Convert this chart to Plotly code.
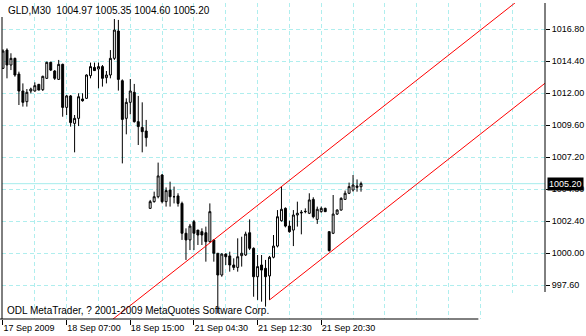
import plotly.graph_objects as go

# ---------------- data ----------------
symbol_header = "GLD,M30  1004.97 1005.35 1004.60 1005.20"
footer_text = "ODL MetaTrader, ? 2001-2009 MetaQuotes Software Corp."

bars = list(range(91))
opens = [1013.85, 1015.22, 1014.10, 1014.60, 1013.42, 1012.15, 1011.35, 1012.15, 1012.15, 1012.65,
         1012.25, 1013.10, 1014.30, 1013.65, 1013.02, 1014.15, 1010.92, 1011.78, 1009.72, 1010.10,
         1011.55, 1011.60, 1013.30, 1013.92, 1013.80, 1013.98, 1013.15, 1013.35, 1014.60, 1016.65,
         1012.92, 1010.10, 1011.30, 1012.05, 1009.85, 1009.42, 1009.15, 1003.35, 1003.85, 1004.22,
         1005.85, 1003.85, 1004.72, 1004.22, 1004.28, 1003.72, 1001.48, 1000.98, 1002.35, 1001.72,
         1001.60, 1001.52, 1000.85, 1000.98, 999.98, 998.35, 999.92, 999.78, 999.10, 998.92,
         999.80, 999.85, 1001.52, 1000.35, 998.22, 999.10, 998.85, 998.28, 999.68, 1000.52,
         1002.42, 1003.35, 1002.02, 1001.72, 1002.85, 1003.00, 1003.10, 1002.98, 1004.02, 1002.52,
         1003.10, 1003.35, 1001.60, 1001.48, 1002.92, 1003.22, 1004.02, 1004.48, 1004.72, 1004.92,
         1004.97]
highs = [1015.28, 1015.35, 1014.98, 1014.65, 1013.60, 1012.72, 1012.30, 1012.40, 1012.80, 1012.68,
         1013.30, 1014.35, 1014.35, 1013.72, 1014.48, 1014.20, 1011.85, 1011.85, 1010.35, 1011.98,
         1011.98, 1013.40, 1014.28, 1014.28, 1014.28, 1014.10, 1013.65, 1015.22, 1017.55, 1017.48,
         1013.02, 1011.60, 1013.05, 1012.68, 1011.78, 1011.30, 1009.98, 1003.98, 1004.60, 1006.78,
         1005.92, 1004.92, 1005.35, 1004.98, 1004.48, 1003.85, 1001.85, 1002.18, 1002.48, 1001.72,
         1001.85, 1001.98, 1003.72, 1001.02, 999.98, 999.98, 999.98, 1000.10, 999.60, 1001.10,
         1001.22, 1001.60, 1002.52, 1000.42, 999.85, 999.85, 999.48, 999.78, 1001.35, 1003.22,
         1004.98, 1003.42, 1002.42, 1003.22, 1003.85, 1003.22, 1003.35, 1004.48, 1004.18, 1003.48,
         1003.48, 1003.40, 1001.62, 1004.35, 1003.28, 1004.18, 1004.68, 1005.28, 1005.85, 1005.52,
         1005.35]
lows = [1013.80, 1013.10, 1013.72, 1013.22, 1011.10, 1010.98, 1010.98, 1011.98, 1012.10, 1012.20,
        1012.15, 1013.05, 1013.65, 1012.98, 1012.98, 1010.22, 1010.35, 1009.48, 1007.55, 1009.52,
        1011.35, 1011.55, 1013.10, 1013.65, 1012.35, 1012.48, 1012.72, 1013.10, 1014.48, 1012.18,
        1006.72, 1008.90, 1010.40, 1009.78, 1008.10, 1007.55, 1007.98, 1003.30, 1003.78, 1004.10,
        1003.72, 1003.48, 1003.48, 1003.72, 1003.48, 1000.98, 999.48, 1000.22, 1000.22, 1000.60,
        1000.60, 999.35, 1000.78, 999.35, 995.48, 998.22, 999.10, 998.60, 998.72, 998.60,
        998.98, 999.78, 1000.22, 996.72, 996.48, 996.35, 995.98, 996.48, 999.60, 1000.42,
        1002.35, 1001.92, 1001.52, 1000.52, 1001.98, 1001.40, 1002.98, 1002.92, 1002.60, 1002.18,
        1003.02, 1003.08, 1000.10, 1001.42, 1002.85, 1003.18, 1003.98, 1004.42, 1004.60, 1004.60,
        1004.60]
closes = [1015.15, 1014.10, 1014.60, 1013.35, 1012.15, 1011.30, 1012.05, 1012.30, 1012.55, 1012.22,
          1013.25, 1014.30, 1013.72, 1013.10, 1014.15, 1010.92, 1011.78, 1009.78, 1010.10, 1011.72,
          1011.42, 1013.35, 1013.98, 1013.68, 1013.98, 1013.10, 1013.35, 1014.60, 1016.72, 1013.02,
          1010.02, 1011.30, 1012.15, 1009.85, 1009.48, 1009.10, 1008.65, 1003.85, 1004.22, 1005.78,
          1003.85, 1004.68, 1004.22, 1004.22, 1003.72, 1001.48, 1000.98, 1002.02, 1001.48, 1001.35,
          1001.35, 1000.85, 1003.10, 999.98, 998.35, 999.92, 999.72, 999.10, 998.92, 999.72,
          999.98, 1001.42, 1000.35, 998.22, 998.98, 998.72, 998.22, 999.68, 1000.52, 1002.72,
          1003.28, 1002.02, 1001.60, 1002.85, 1002.98, 1003.05, 1003.12, 1003.98, 1002.72, 1003.28,
          1003.35, 1003.10, 1000.18, 1002.92, 1003.22, 1004.10, 1004.48, 1004.98, 1005.10, 1005.02,
          1005.20]

time_tick_bars = [0, 16, 32, 48, 64, 80]
time_tick_labels = ["17 Sep 2009", "18 Sep 07:00", "18 Sep 15:00",
                    "21 Sep 04:30", "21 Sep 12:30", "21 Sep 20:30"]
price_ticks = [997.60, 1000.00, 1002.40, 1004.80, 1007.20, 1009.60, 1012.00, 1014.40, 1016.80]
bid_price = 1005.20

# trend channel anchors
lower_trend_bars = [67, 82]
lower_trend_prices = [996.48, 1000.00]
upper_anchor_bar = 70
upper_anchor_price = 1004.98

# ---------------- layout constants ----------------
W, H = 586, 336
L_M, R_M, T_M, B_M = 2, 38, 3, 17
x_range = [-0.25, 136.25]
y_range = [995.05, 1018.75]
GRID = "#afeeee"
FONT = "Liberation Sans, Arial, sans-serif"

def px_x(px):
    return (px - L_M) / (W - L_M - R_M)

def px_y(py):
    return (H - B_M - py) / (H - T_M - B_M)

fig = go.Figure()

fig.add_trace(go.Candlestick(
    x=bars, open=opens, high=highs, low=lows, close=closes,
    increasing=dict(line=dict(color="black", width=1), fillcolor="white"),
    decreasing=dict(line=dict(color="black", width=1), fillcolor="black"),
    whiskerwidth=0, hoverinfo="skip", showlegend=False,
))

# channel lines
slope = (lower_trend_prices[1] - lower_trend_prices[0]) / (lower_trend_bars[1] - lower_trend_bars[0])
lx = [lower_trend_bars[0], x_range[1]]
ly = [lower_trend_prices[0] + slope * (v - lower_trend_bars[0]) for v in lx]
ux = [20, x_range[1]]
uy = [upper_anchor_price + slope * (v - upper_anchor_bar) for v in ux]
for xs, ys in ((lx, ly), (ux, uy)):
    fig.add_trace(go.Scatter(x=xs, y=ys, mode="lines", line=dict(color="#ff0000", width=1),
                             hoverinfo="skip", showlegend=False))

shapes = [
    # bid line
    dict(type="line", xref="paper", yref="y", x0=0, x1=1, y0=bid_price, y1=bid_price,
         line=dict(color="#a6ecec", width=1), layer="below"),
    # left border
    dict(type="line", xref="paper", yref="paper", x0=0, x1=0, y0=0, y1=px_y(17),
         line=dict(color="black", width=1)),
    # right price-axis line
    dict(type="line", xref="paper", yref="paper", x0=1, x1=1, y0=px_y(292), y1=1,
         line=dict(color="black", width=1)),
    # blank corner
    dict(type="rect", xref="paper", yref="paper", x0=px_x(485), x1=px_x(590),
         y0=px_y(340), y1=px_y(293), fillcolor="white", line=dict(width=0), layer="above"),
    # bottom time-axis line
    dict(type="line", xref="paper", yref="paper", x0=px_x(0), x1=px_x(481), y0=0, y1=0,
         line=dict(color="black", width=1)),
]

annotations = [
    dict(text=symbol_header, xref="paper", yref="paper", x=px_x(6), y=px_y(10),
         xanchor="left", yanchor="middle", showarrow=False,
         font=dict(family=FONT, size=10, color="black")),
    dict(text=footer_text, xref="paper", yref="paper", x=px_x(5), y=px_y(310),
         xanchor="left", yanchor="middle", showarrow=False,
         font=dict(family=FONT, size=10, color="black")),
    dict(text=f"{bid_price:.2f}", xref="paper", yref="y", x=px_x(550), y=bid_price,
         xanchor="left", yanchor="middle", showarrow=False, bgcolor="black", borderpad=1,
         font=dict(family=FONT, size=9, color="white")),
]

fig.update_layout(
    width=W, height=H, margin=dict(l=L_M, r=R_M, t=T_M, b=B_M, pad=0),
    paper_bgcolor="white", plot_bgcolor="white", showlegend=False,
    shapes=shapes, annotations=annotations, hovermode=False,
    xaxis=dict(range=x_range, rangeslider=dict(visible=False), showgrid=False, zeroline=False,
               showline=False, tickmode="array", tickvals=time_tick_bars, ticktext=time_tick_labels,
               ticks="outside", ticklen=5, tickwidth=1, tickcolor="black",
               ticklabelposition="outside right",
               tickfont=dict(family=FONT, size=9, color="black"),
               minor=dict(tickmode="array", tickvals=list(range(8, 137, 8)), showgrid=True,
                          gridcolor=GRID, griddash="4px,3px", gridwidth=1, ticks="")),
    yaxis=dict(range=y_range, side="right", showgrid=True, gridcolor=GRID, griddash="4px,3px",
               gridwidth=1, zeroline=False, showline=False, tickmode="array",
               tickvals=price_ticks, ticktext=[f"{v:.2f}" for v in price_ticks],
               ticks="outside", ticklen=4, tickwidth=1, tickcolor="black",
               tickfont=dict(family=FONT, size=9, color="black")),
)

fig.write_html("out.html")
